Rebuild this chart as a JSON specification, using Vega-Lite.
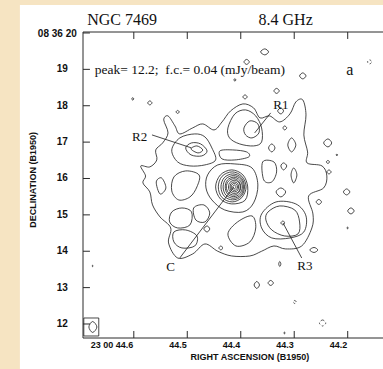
{
"$schema":"https://vega.github.io/schema/vega-lite/v6.json",
"width":300,"height":306,
"autosize":{"type":"none"},
"padding":{"left":83,"top":32,"right":0,"bottom":31},
"background":"#ffffff",
"config":{"view":{"stroke":null}},
"encoding":{
 "x":{"field":"ra","type":"quantitative","scale":{"domain":[44.134,44.695],"reverse":true,"nice":false,"zero":false},"axis":null},
 "y":{"field":"dec","type":"quantitative","scale":{"domain":[11.615,20.027],"nice":false,"zero":false},"axis":null}
},
"datasets":{
"contours":[
{"c":"E0","ra":44.570,"dec":15.630},{"c":"E0","ra":44.583,"dec":15.878},{"c":"E0","ra":44.578,"dec":16.070},{"c":"E0","ra":44.587,"dec":16.345},{"c":"E0","ra":44.570,"dec":16.318},{"c":"E0","ra":44.557,"dec":16.510},{"c":"E0","ra":44.559,"dec":16.785},{"c":"E0","ra":44.546,"dec":16.978},{"c":"E0","ra":44.536,"dec":17.253},{"c":"E0","ra":44.544,"dec":17.610},{"c":"E0","ra":44.536,"dec":17.720},{"c":"E0","ra":44.523,"dec":17.445},{"c":"E0","ra":44.514,"dec":17.225},{"c":"E0","ra":44.490,"dec":17.390},{"c":"E0","ra":44.471,"dec":17.500},{"c":"E0","ra":44.450,"dec":17.335},{"c":"E0","ra":44.435,"dec":17.555},{"c":"E0","ra":44.419,"dec":17.858},{"c":"E0","ra":44.396,"dec":18.050},{"c":"E0","ra":44.376,"dec":17.940},{"c":"E0","ra":44.364,"dec":17.665},{"c":"E0","ra":44.346,"dec":17.720},{"c":"E0","ra":44.327,"dec":17.555},{"c":"E0","ra":44.308,"dec":17.775},{"c":"E0","ra":44.297,"dec":18.105},{"c":"E0","ra":44.284,"dec":18.160},{"c":"E0","ra":44.278,"dec":17.748},{"c":"E0","ra":44.282,"dec":17.198},{"c":"E0","ra":44.275,"dec":16.730},{"c":"E0","ra":44.276,"dec":16.428},{"c":"E0","ra":44.248,"dec":16.345},{"c":"E0","ra":44.239,"dec":16.070},{"c":"E0","ra":44.245,"dec":15.740},{"c":"E0","ra":44.273,"dec":15.520},{"c":"E0","ra":44.265,"dec":15.025},{"c":"E0","ra":44.267,"dec":14.640},{"c":"E0","ra":44.286,"dec":14.145},{"c":"E0","ra":44.316,"dec":14.063},{"c":"E0","ra":44.338,"dec":14.145},{"c":"E0","ra":44.361,"dec":14.000},{"c":"E0","ra":44.383,"dec":13.870},{"c":"E0","ra":44.417,"dec":13.870},{"c":"E0","ra":44.443,"dec":14.000},{"c":"E0","ra":44.467,"dec":14.200},{"c":"E0","ra":44.490,"dec":13.925},{"c":"E0","ra":44.518,"dec":13.815},{"c":"E0","ra":44.535,"dec":14.228},{"c":"E0","ra":44.531,"dec":14.640},{"c":"E0","ra":44.551,"dec":14.943},{"c":"E0","ra":44.565,"dec":15.273},
{"c":"L2a","ra":44.529,"dec":16.785},{"c":"L2a","ra":44.514,"dec":17.115},{"c":"L2a","ra":44.486,"dec":17.225},{"c":"L2a","ra":44.467,"dec":17.143},{"c":"L2a","ra":44.454,"dec":16.840},{"c":"L2a","ra":44.447,"dec":16.510},{"c":"L2a","ra":44.467,"dec":16.373},{"c":"L2a","ra":44.495,"dec":16.345},{"c":"L2a","ra":44.518,"dec":16.455},
{"c":"R2b","ra":44.503,"dec":16.840},{"c":"R2b","ra":44.492,"dec":16.978},{"c":"R2b","ra":44.475,"dec":16.950},{"c":"R2b","ra":44.463,"dec":16.758},{"c":"R2b","ra":44.473,"dec":16.620},{"c":"R2b","ra":44.493,"dec":16.648},
{"c":"R2c","ra":44.493,"dec":16.813},{"c":"R2c","ra":44.482,"dec":16.895},{"c":"R2c","ra":44.471,"dec":16.785},{"c":"R2c","ra":44.480,"dec":16.703},
{"c":"R1a","ra":44.424,"dec":17.390},{"c":"R1a","ra":44.411,"dec":17.775},{"c":"R1a","ra":44.391,"dec":17.885},{"c":"R1a","ra":44.372,"dec":17.720},{"c":"R1a","ra":44.361,"dec":17.390},{"c":"R1a","ra":44.361,"dec":17.005},{"c":"R1a","ra":44.376,"dec":16.895},{"c":"R1a","ra":44.402,"dec":16.950},{"c":"R1a","ra":44.421,"dec":17.115},
{"c":"R1b","ra":44.394,"dec":17.390},{"c":"R1b","ra":44.383,"dec":17.583},{"c":"R1b","ra":44.368,"dec":17.500},{"c":"R1b","ra":44.366,"dec":17.253},{"c":"R1b","ra":44.379,"dec":17.115},{"c":"R1b","ra":44.391,"dec":17.198},
{"c":"Kc","ra":44.462,"dec":16.098},{"c":"Kc","ra":44.443,"dec":16.373},{"c":"Kc","ra":44.411,"dec":16.400},{"c":"Kc","ra":44.379,"dec":16.290},{"c":"Kc","ra":44.368,"dec":15.823},{"c":"Kc","ra":44.376,"dec":15.328},{"c":"Kc","ra":44.396,"dec":15.080},{"c":"Kc","ra":44.430,"dec":15.135},{"c":"Kc","ra":44.454,"dec":15.410},{"c":"Kc","ra":44.465,"dec":15.740},
{"c":"L2b","ra":44.525,"dec":16.043},{"c":"L2b","ra":44.503,"dec":16.208},{"c":"L2b","ra":44.478,"dec":16.098},{"c":"L2b","ra":44.482,"dec":15.768},{"c":"L2b","ra":44.495,"dec":15.493},{"c":"L2b","ra":44.516,"dec":15.410},{"c":"L2b","ra":44.529,"dec":15.658},
{"c":"L2c","ra":44.406,"dec":14.805},{"c":"L2c","ra":44.379,"dec":14.970},{"c":"L2c","ra":44.372,"dec":14.640},{"c":"L2c","ra":44.383,"dec":14.255},{"c":"L2c","ra":44.409,"dec":14.145},{"c":"L2c","ra":44.424,"dec":14.475},
{"c":"L2e","ra":44.439,"dec":16.758},{"c":"L2e","ra":44.415,"dec":16.785},{"c":"L2e","ra":44.389,"dec":16.730},{"c":"L2e","ra":44.385,"dec":16.593},{"c":"L2e","ra":44.411,"dec":16.510},{"c":"L2e","ra":44.435,"dec":16.538},
{"c":"R3o","ra":44.361,"dec":15.025},{"c":"R3o","ra":44.334,"dec":15.355},{"c":"R3o","ra":44.297,"dec":15.300},{"c":"R3o","ra":44.278,"dec":14.970},{"c":"R3o","ra":44.282,"dec":14.530},{"c":"R3o","ra":44.308,"dec":14.365},{"c":"R3o","ra":44.342,"dec":14.365},{"c":"R3o","ra":44.361,"dec":14.640},
{"c":"R3a","ra":44.349,"dec":15.080},{"c":"R3a","ra":44.327,"dec":15.245},{"c":"R3a","ra":44.299,"dec":15.135},{"c":"R3a","ra":44.290,"dec":14.805},{"c":"R3a","ra":44.293,"dec":14.475},{"c":"R3a","ra":44.318,"dec":14.420},{"c":"R3a","ra":44.342,"dec":14.585},{"c":"R3a","ra":44.353,"dec":14.860},
{"c":"R3c","ra":44.325,"dec":14.778},{"c":"R3c","ra":44.321,"dec":14.833},{"c":"R3c","ra":44.318,"dec":14.778},{"c":"R3c","ra":44.321,"dec":14.723},
{"c":"I1","ra":44.529,"dec":15.080},{"c":"I1","ra":44.510,"dec":15.190},{"c":"I1","ra":44.492,"dec":15.080},{"c":"I1","ra":44.495,"dec":14.723},{"c":"I1","ra":44.518,"dec":14.640},{"c":"I1","ra":44.533,"dec":14.805},
{"c":"I2","ra":44.488,"dec":15.190},{"c":"I2","ra":44.469,"dec":15.273},{"c":"I2","ra":44.458,"dec":15.053},{"c":"I2","ra":44.467,"dec":14.805},{"c":"I2","ra":44.484,"dec":14.860},
{"c":"I3","ra":44.469,"dec":14.613},{"c":"I3","ra":44.463,"dec":14.695},{"c":"I3","ra":44.458,"dec":14.613},{"c":"I3","ra":44.463,"dec":14.530},
{"c":"I4","ra":44.525,"dec":14.530},{"c":"I4","ra":44.503,"dec":14.585},{"c":"I4","ra":44.482,"dec":14.420},{"c":"I4","ra":44.486,"dec":14.145},{"c":"I4","ra":44.510,"dec":14.090},{"c":"I4","ra":44.525,"dec":14.255},
{"c":"I7","ra":44.441,"dec":14.090},{"c":"I7","ra":44.437,"dec":14.145},{"c":"I7","ra":44.434,"dec":14.090},{"c":"I7","ra":44.437,"dec":14.035},
{"c":"I8","ra":44.359,"dec":16.455},{"c":"I8","ra":44.338,"dec":16.455},{"c":"I8","ra":44.333,"dec":16.180},{"c":"I8","ra":44.342,"dec":15.905},{"c":"I8","ra":44.357,"dec":15.960},
{"c":"I9","ra":44.325,"dec":16.345},{"c":"I9","ra":44.320,"dec":16.428},{"c":"I9","ra":44.314,"dec":16.345},{"c":"I9","ra":44.320,"dec":16.235},
{"c":"I10","ra":44.306,"dec":16.098},{"c":"I10","ra":44.301,"dec":16.290},{"c":"I10","ra":44.295,"dec":16.098},{"c":"I10","ra":44.301,"dec":15.878},
{"c":"I11","ra":44.321,"dec":17.390},{"c":"I11","ra":44.318,"dec":17.445},{"c":"I11","ra":44.314,"dec":17.390},{"c":"I11","ra":44.318,"dec":17.335},
{"c":"I12","ra":44.331,"dec":17.858},{"c":"I12","ra":44.325,"dec":17.940},{"c":"I12","ra":44.320,"dec":17.858},{"c":"I12","ra":44.325,"dec":17.775},
{"c":"I13","ra":44.558,"dec":15.905},{"c":"I13","ra":44.548,"dec":16.015},{"c":"I13","ra":44.540,"dec":15.740},{"c":"I13","ra":44.551,"dec":15.575},
{"c":"I15","ra":44.334,"dec":15.630},{"c":"I15","ra":44.325,"dec":15.740},{"c":"I15","ra":44.316,"dec":15.630},{"c":"I15","ra":44.325,"dec":15.493},
{"c":"I16","ra":44.312,"dec":16.923},{"c":"I16","ra":44.305,"dec":17.115},{"c":"I16","ra":44.297,"dec":16.923},{"c":"I16","ra":44.305,"dec":16.730},
{"c":"I17","ra":44.348,"dec":16.840},{"c":"I17","ra":44.342,"dec":16.950},{"c":"I17","ra":44.336,"dec":16.840},{"c":"I17","ra":44.342,"dec":16.730},
{"c":"K1","ra":44.447,"dec":15.768},{"c":"K1","ra":44.438,"dec":16.099},{"c":"K1","ra":44.417,"dec":16.236},{"c":"K1","ra":44.396,"dec":16.099},{"c":"K1","ra":44.387,"dec":15.768},{"c":"K1","ra":44.392,"dec":15.400},{"c":"K1","ra":44.417,"dec":15.301},{"c":"K1","ra":44.438,"dec":15.438},
{"c":"K2","ra":44.442,"dec":15.768},{"c":"K2","ra":44.435,"dec":16.060},{"c":"K2","ra":44.416,"dec":16.181},{"c":"K2","ra":44.398,"dec":16.060},{"c":"K2","ra":44.390,"dec":15.768},{"c":"K2","ra":44.398,"dec":15.476},{"c":"K2","ra":44.416,"dec":15.356},{"c":"K2","ra":44.435,"dec":15.476},
{"c":"K3","ra":44.437,"dec":15.768},{"c":"K3","ra":44.431,"dec":16.021},{"c":"K3","ra":44.415,"dec":16.126},{"c":"K3","ra":44.399,"dec":16.021},{"c":"K3","ra":44.393,"dec":15.768},{"c":"K3","ra":44.399,"dec":15.515},{"c":"K3","ra":44.415,"dec":15.411},{"c":"K3","ra":44.431,"dec":15.515},
{"c":"K4","ra":44.433,"dec":15.768},{"c":"K4","ra":44.428,"dec":15.988},{"c":"K4","ra":44.414,"dec":16.079},{"c":"K4","ra":44.400,"dec":15.988},{"c":"K4","ra":44.395,"dec":15.768},{"c":"K4","ra":44.400,"dec":15.548},{"c":"K4","ra":44.414,"dec":15.457},{"c":"K4","ra":44.428,"dec":15.548},
{"c":"K5","ra":44.429,"dec":15.768},{"c":"K5","ra":44.425,"dec":15.957},{"c":"K5","ra":44.413,"dec":16.035},{"c":"K5","ra":44.402,"dec":15.957},{"c":"K5","ra":44.397,"dec":15.768},{"c":"K5","ra":44.402,"dec":15.579},{"c":"K5","ra":44.413,"dec":15.501},{"c":"K5","ra":44.425,"dec":15.579},
{"c":"K6","ra":44.427,"dec":15.768},{"c":"K6","ra":44.423,"dec":15.927},{"c":"K6","ra":44.413,"dec":15.994},{"c":"K6","ra":44.404,"dec":15.927},{"c":"K6","ra":44.400,"dec":15.768},{"c":"K6","ra":44.404,"dec":15.609},{"c":"K6","ra":44.413,"dec":15.543},{"c":"K6","ra":44.423,"dec":15.609},
{"c":"K7","ra":44.423,"dec":15.768},{"c":"K7","ra":44.420,"dec":15.896},{"c":"K7","ra":44.412,"dec":15.950},{"c":"K7","ra":44.404,"dec":15.896},{"c":"K7","ra":44.401,"dec":15.768},{"c":"K7","ra":44.404,"dec":15.640},{"c":"K7","ra":44.412,"dec":15.587},{"c":"K7","ra":44.420,"dec":15.640},
{"c":"K8","ra":44.420,"dec":15.768},{"c":"K8","ra":44.418,"dec":15.865},{"c":"K8","ra":44.412,"dec":15.906},{"c":"K8","ra":44.406,"dec":15.865},{"c":"K8","ra":44.404,"dec":15.768},{"c":"K8","ra":44.406,"dec":15.671},{"c":"K8","ra":44.412,"dec":15.631},{"c":"K8","ra":44.418,"dec":15.671},
{"c":"K9","ra":44.418,"dec":15.768},{"c":"K9","ra":44.416,"dec":15.836},{"c":"K9","ra":44.412,"dec":15.864},{"c":"K9","ra":44.408,"dec":15.836},{"c":"K9","ra":44.406,"dec":15.768},{"c":"K9","ra":44.408,"dec":15.700},{"c":"K9","ra":44.412,"dec":15.672},{"c":"K9","ra":44.416,"dec":15.700},
{"c":"K10","ra":44.415,"dec":15.768},{"c":"K10","ra":44.412,"dec":15.823},{"c":"K10","ra":44.409,"dec":15.768},{"c":"K10","ra":44.412,"dec":15.713},
{"c":"O1","ra":44.363,"dec":19.480},{"c":"O1","ra":44.355,"dec":19.563},{"c":"O1","ra":44.348,"dec":19.480},{"c":"O1","ra":44.355,"dec":19.398},
{"c":"O2","ra":44.394,"dec":19.205},{"c":"O2","ra":44.389,"dec":19.274},{"c":"O2","ra":44.384,"dec":19.205},{"c":"O2","ra":44.389,"dec":19.136},
{"c":"O3","ra":44.290,"dec":18.820},{"c":"O3","ra":44.284,"dec":18.903},{"c":"O3","ra":44.278,"dec":18.820},{"c":"O3","ra":44.284,"dec":18.738},
{"c":"O4","ra":44.413,"dec":18.710},{"c":"O4","ra":44.411,"dec":18.743},{"c":"O4","ra":44.409,"dec":18.710},{"c":"O4","ra":44.411,"dec":18.677},
{"c":"O5","ra":44.396,"dec":18.243},{"c":"O5","ra":44.392,"dec":18.298},{"c":"O5","ra":44.388,"dec":18.243},{"c":"O5","ra":44.392,"dec":18.188},
{"c":"O6","ra":44.338,"dec":18.408},{"c":"O6","ra":44.333,"dec":18.477},{"c":"O6","ra":44.328,"dec":18.408},{"c":"O6","ra":44.333,"dec":18.339},
{"c":"O7","ra":44.604,"dec":18.188},{"c":"O7","ra":44.602,"dec":18.221},{"c":"O7","ra":44.600,"dec":18.188},{"c":"O7","ra":44.602,"dec":18.155},
{"c":"O8","ra":44.574,"dec":18.078},{"c":"O8","ra":44.570,"dec":18.133},{"c":"O8","ra":44.566,"dec":18.078},{"c":"O8","ra":44.570,"dec":18.023},
{"c":"O9","ra":44.521,"dec":17.830},{"c":"O9","ra":44.518,"dec":17.871},{"c":"O9","ra":44.515,"dec":17.830},{"c":"O9","ra":44.518,"dec":17.789},
{"c":"O11","ra":44.245,"dec":16.978},{"c":"O11","ra":44.237,"dec":17.088},{"c":"O11","ra":44.230,"dec":16.978},{"c":"O11","ra":44.237,"dec":16.868},
{"c":"O12","ra":44.240,"dec":16.455},{"c":"O12","ra":44.237,"dec":16.496},{"c":"O12","ra":44.234,"dec":16.455},{"c":"O12","ra":44.237,"dec":16.414},
{"c":"O13","ra":44.239,"dec":16.180},{"c":"O13","ra":44.235,"dec":16.235},{"c":"O13","ra":44.231,"dec":16.180},{"c":"O13","ra":44.235,"dec":16.125},
{"c":"O14","ra":44.222,"dec":16.648},{"c":"O14","ra":44.220,"dec":16.670},{"c":"O14","ra":44.219,"dec":16.648},{"c":"O14","ra":44.220,"dec":16.626},
{"c":"O15","ra":44.208,"dec":15.630},{"c":"O15","ra":44.202,"dec":15.713},{"c":"O15","ra":44.196,"dec":15.630},{"c":"O15","ra":44.202,"dec":15.548},
{"c":"O16","ra":44.200,"dec":15.108},{"c":"O16","ra":44.194,"dec":15.191},{"c":"O16","ra":44.188,"dec":15.108},{"c":"O16","ra":44.194,"dec":15.026},
{"c":"O17","ra":44.202,"dec":14.640},{"c":"O17","ra":44.200,"dec":14.662},{"c":"O17","ra":44.199,"dec":14.640},{"c":"O17","ra":44.200,"dec":14.618},
{"c":"O18","ra":44.271,"dec":14.035},{"c":"O18","ra":44.263,"dec":14.104},{"c":"O18","ra":44.256,"dec":14.035},{"c":"O18","ra":44.263,"dec":13.966},
{"c":"O19","ra":44.329,"dec":13.650},{"c":"O19","ra":44.327,"dec":13.719},{"c":"O19","ra":44.325,"dec":13.650},{"c":"O19","ra":44.327,"dec":13.581},
{"c":"O20","ra":44.375,"dec":13.073},{"c":"O20","ra":44.370,"dec":13.169},{"c":"O20","ra":44.365,"dec":13.073},{"c":"O20","ra":44.370,"dec":12.977},
{"c":"O21","ra":44.349,"dec":13.128},{"c":"O21","ra":44.344,"dec":13.197},{"c":"O21","ra":44.339,"dec":13.128},{"c":"O21","ra":44.344,"dec":13.059},
{"c":"O24","ra":44.320,"dec":11.753},{"c":"O24","ra":44.318,"dec":11.775},{"c":"O24","ra":44.317,"dec":11.753},{"c":"O24","ra":44.318,"dec":11.731},
{"c":"O25","ra":44.678,"dec":13.595},{"c":"O25","ra":44.677,"dec":13.614},{"c":"O25","ra":44.676,"dec":13.595},{"c":"O25","ra":44.677,"dec":13.576},
{"c":"O26","ra":44.259,"dec":15.355},{"c":"O26","ra":44.254,"dec":15.424},{"c":"O26","ra":44.249,"dec":15.355},{"c":"O26","ra":44.254,"dec":15.286},
{"c":"BM","ra":44.684,"dec":11.918},{"c":"BM","ra":44.677,"dec":12.069},{"c":"BM","ra":44.669,"dec":11.918},{"c":"BM","ra":44.677,"dec":11.767}
],
"negcontours":[
{"c":"O10","ra":44.163,"dec":19.205},{"c":"O10","ra":44.159,"dec":19.260},{"c":"O10","ra":44.155,"dec":19.205},{"c":"O10","ra":44.159,"dec":19.150},
{"c":"O22","ra":44.302,"dec":12.605},{"c":"O22","ra":44.299,"dec":12.646},{"c":"O22","ra":44.296,"dec":12.605},{"c":"O22","ra":44.299,"dec":12.564},
{"c":"O23","ra":44.253,"dec":12.028},{"c":"O23","ra":44.247,"dec":12.110},{"c":"O23","ra":44.241,"dec":12.028},{"c":"O23","ra":44.247,"dec":11.945}
],
"leaders":[
{"ra":44.566,"dec":17.198,"ra2":44.492,"dec2":16.840},
{"ra":44.344,"dec":17.803,"ra2":44.374,"dec2":17.253},
{"ra":44.514,"dec":13.815,"ra2":44.413,"dec2":15.768},
{"ra":44.286,"dec":13.815,"ra2":44.321,"dec2":14.778}
],
"frame":[
{"ra":44.695,"dec":20.027,"ra2":44.134,"dec2":20.027},
{"ra":44.695,"dec":11.615,"ra2":44.134,"dec2":11.615},
{"ra":44.695,"dec":11.615,"ra2":44.695,"dec2":20.027},
{"ra":44.6,"dec":20.027,"ra2":44.6,"dec2":19.835},
{"ra":44.5,"dec":20.027,"ra2":44.5,"dec2":19.835},
{"ra":44.4,"dec":20.027,"ra2":44.4,"dec2":19.835},
{"ra":44.3,"dec":20.027,"ra2":44.3,"dec2":19.835},
{"ra":44.2,"dec":20.027,"ra2":44.2,"dec2":19.835},
{"ra":44.6,"dec":11.615,"ra2":44.6,"dec2":11.8075},
{"ra":44.5,"dec":11.615,"ra2":44.5,"dec2":11.8075},
{"ra":44.4,"dec":11.615,"ra2":44.4,"dec2":11.8075},
{"ra":44.3,"dec":11.615,"ra2":44.3,"dec2":11.8075},
{"ra":44.2,"dec":11.615,"ra2":44.2,"dec2":11.8075},
{"ra":44.695,"dec":12,"ra2":44.682,"dec2":12},
{"ra":44.695,"dec":13,"ra2":44.682,"dec2":13},
{"ra":44.695,"dec":14,"ra2":44.682,"dec2":14},
{"ra":44.695,"dec":15,"ra2":44.682,"dec2":15},
{"ra":44.695,"dec":16,"ra2":44.682,"dec2":16},
{"ra":44.695,"dec":17,"ra2":44.682,"dec2":17},
{"ra":44.695,"dec":18,"ra2":44.682,"dec2":18},
{"ra":44.695,"dec":19,"ra2":44.682,"dec2":19},
{"ra":44.695,"dec":20,"ra2":44.682,"dec2":20}
],
"xlabels":[
{"t":"23 00 44.6","ra":44.601,"dec":11.54},
{"t":"44.5","ra":44.501,"dec":11.54},
{"t":"44.4","ra":44.401,"dec":11.54},
{"t":"44.3","ra":44.301,"dec":11.54},
{"t":"44.2","ra":44.201,"dec":11.54}
],
"ylabels":[
{"t":"12","ra":44.7235,"dec":12},{"t":"13","ra":44.7235,"dec":13},{"t":"14","ra":44.7235,"dec":14},{"t":"15","ra":44.7235,"dec":15},
{"t":"16","ra":44.7235,"dec":16},{"t":"17","ra":44.7235,"dec":17},{"t":"18","ra":44.7235,"dec":18},{"t":"19","ra":44.7235,"dec":19},
{"t":"08 36 20","ra":44.7066,"dec":19.96}
],
"xtitle":[{"t":"RIGHT ASCENSION (B1950)","ra":44.383,"dec":11.0}],
"ytitle":[{"t":"DECLINATION (B1950)","ra":44.789,"dec":15.96}],
"tags":[
{"t":"R1","ra":44.325,"dec":18.023},
{"t":"R2","ra":44.589,"dec":17.143},
{"t":"C","ra":44.531,"dec":13.568},
{"t":"R3","ra":44.280,"dec":13.595}
],
"heads":[
{"t":"NGC 7469","ra":44.622,"dec":20.22},
{"t":"8.4 GHz","ra":44.316,"dec":20.22}
],
"note":[{"t":"peak= 12.2; \u00a0f.c.= 0.04 (mJy/beam)","ra":44.673,"dec":18.985}],
"panel":[{"t":"a","ra":44.196,"dec":18.985}],
"beam":[{"ra":44.6935,"ra2":44.6655,"dec":12.165,"dec2":11.67}],
"strips":[
{"ra":44.95,"ra2":44.813,"dec":10.0,"dec2":21.5},
{"ra":44.95,"ra2":44.0,"dec":20.7725,"dec2":21.5}
]
},
"layer":[
{"data":{"name":"strips"},
 "mark":{"type":"rect","fill":"#f6e4c2","stroke":null},
 "encoding":{"x2":{"field":"ra2"},"y2":{"field":"dec2"}}},
{"data":{"name":"contours"},
 "mark":{"type":"line","interpolate":"cardinal-closed","strokeWidth":0.8,"color":"#1a1a1a"},
 "encoding":{"detail":{"field":"c"},"order":{"value":null}}},
{"data":{"name":"negcontours"},
 "mark":{"type":"line","interpolate":"cardinal-closed","strokeWidth":0.8,"color":"#1a1a1a","strokeDash":[2,2]},
 "encoding":{"detail":{"field":"c"},"order":{"value":null}}},
{"data":{"name":"beam"},
 "mark":{"type":"rect","fill":null,"stroke":"#1a1a1a","strokeWidth":0.8},
 "encoding":{"x2":{"field":"ra2"},"y2":{"field":"dec2"}}},
{"data":{"name":"leaders"},
 "mark":{"type":"rule","strokeWidth":0.8,"color":"#1a1a1a"},
 "encoding":{"x2":{"field":"ra2"},"y2":{"field":"dec2"}}},
{"data":{"name":"frame"},
 "mark":{"type":"rule","strokeWidth":1,"color":"#2a2a2a"},
 "encoding":{"x2":{"field":"ra2"},"y2":{"field":"dec2"}}},
{"data":{"name":"xlabels"},
 "mark":{"type":"text","font":"Liberation Sans","fontWeight":"bold","fontSize":9,"color":"#111","align":"right","baseline":"top"},
 "encoding":{"text":{"field":"t"}}},
{"data":{"name":"ylabels"},
 "mark":{"type":"text","font":"Liberation Sans","fontWeight":"bold","fontSize":10,"color":"#111","align":"right","baseline":"middle"},
 "encoding":{"text":{"field":"t"}}},
{"data":{"name":"xtitle"},
 "mark":{"type":"text","font":"Liberation Sans","fontWeight":"bold","fontSize":9,"color":"#111","align":"center","baseline":"alphabetic"},
 "encoding":{"text":{"field":"t"}}},
{"data":{"name":"ytitle"},
 "mark":{"type":"text","font":"Liberation Sans","fontWeight":"bold","fontSize":9,"color":"#111","align":"center","baseline":"middle","angle":270},
 "encoding":{"text":{"field":"t"}}},
{"data":{"name":"tags"},
 "mark":{"type":"text","font":"Liberation Serif","fontSize":13,"color":"#111","align":"center","baseline":"middle"},
 "encoding":{"text":{"field":"t"}}},
{"data":{"name":"heads"},
 "mark":{"type":"text","font":"Liberation Serif","fontSize":16,"color":"#111","align":"center","baseline":"alphabetic"},
 "encoding":{"text":{"field":"t"}}},
{"data":{"name":"note"},
 "mark":{"type":"text","font":"Liberation Serif","fontSize":13.5,"color":"#111","align":"left","baseline":"middle"},
 "encoding":{"text":{"field":"t"}}},
{"data":{"name":"panel"},
 "mark":{"type":"text","font":"Liberation Serif","fontSize":16,"color":"#111","align":"center","baseline":"middle"},
 "encoding":{"text":{"field":"t"}}}
]
}
